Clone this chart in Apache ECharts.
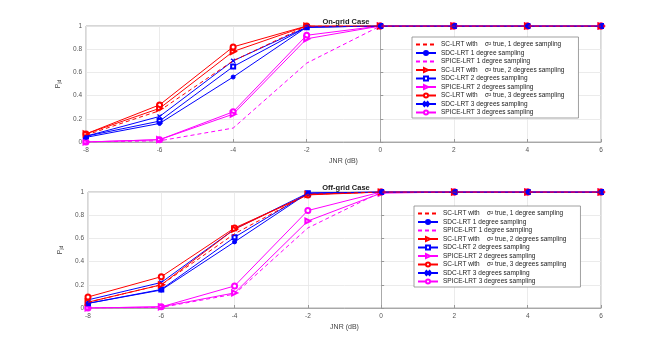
<!DOCTYPE html>
<html>
<head>
<meta charset="utf-8">
<script src="https://cdn.jsdelivr.net/npm/echarts@6/dist/echarts.min.js"></script>
<style>
  html, body { margin: 0; padding: 0; background: #fff; }
  #main { width: 664px; height: 349px; }
</style>
</head>
<body>
<div id="main"></div>
<script>
// x ticks (JNR in dB)
var jnr = [-8, -6, -4, -2, 0, 2, 4, 6];

// On-grid case
var scLrt1On    = [0.06, 0.27, 0.70, 1.00, 1, 1, 1, 1];
var sdcLrt1On   = [0.04, 0.16, 0.56, 0.99, 1, 1, 1, 1];
var spiceLrt1On = [0.00, 0.01, 0.12, 0.68, 1, 1, 1, 1];
var scLrt2On    = [0.07, 0.29, 0.78, 1.00, 1, 1, 1, 1];
var sdcLrt2On   = [0.05, 0.18, 0.65, 0.99, 1, 1, 1, 1];
var spiceLrt2On = [0.00, 0.02, 0.24, 0.89, 1, 1, 1, 1];
var scLrt3On    = [0.07, 0.32, 0.82, 1.00, 1, 1, 1, 1];
var sdcLrt3On   = [0.05, 0.22, 0.70, 0.99, 1, 1, 1, 1];
var spiceLrt3On = [0.00, 0.02, 0.26, 0.92, 1, 1, 1, 1];

// Off-grid case
var scLrt1Off    = [0.05, 0.20, 0.64, 0.98, 1, 1, 1, 1];
var sdcLrt1Off   = [0.04, 0.155, 0.57, 0.99, 1, 1, 1, 1];
var spiceLrt1Off = [0.00, 0.005, 0.12, 0.69, 1, 1, 1, 1];
var scLrt2Off    = [0.05, 0.20, 0.68, 0.98, 1, 1, 1, 1];
var sdcLrt2Off   = [0.04, 0.16, 0.61, 0.99, 1, 1, 1, 1];
var spiceLrt2Off = [0.00, 0.01, 0.13, 0.75, 0.99, 1, 1, 1];
var scLrt3Off    = [0.095, 0.27, 0.69, 0.975, 1, 1, 1, 1];
var sdcLrt3Off   = [0.07, 0.22, 0.68, 0.99, 1, 1, 1, 1];
var spiceLrt3Off = [0.00, 0.01, 0.19, 0.84, 1, 1, 1, 1];

var names = [
  'SC-LRT with    σ² true, 1 degree sampling',
  'SDC-LRT 1 degree sampling',
  'SPICE-LRT 1 degree sampling',
  'SC-LRT with    σ² true, 2 degrees sampling',
  'SDC-LRT 2 degrees sampling',
  'SPICE-LRT 2 degrees sampling',
  'SC-LRT with    σ² true, 3 degrees sampling',
  'SDC-LRT 3 degrees sampling',
  'SPICE-LRT 3 degrees sampling'
];

var RED = '#ff0000', BLUE = '#0000ff', MAG = '#ff00ff';
var crossPath = 'path://M0,1L1,0L5,4L9,0L10,1L6,5L10,9L9,10L5,6L1,10L0,9L4,5Z';

// style of each of the 9 curves: colour, dash, symbol (null = line only)
var styles = [
  { c: RED,  dash: true,  sym: null },
  { c: BLUE, dash: false, sym: 'circle', size: 4 },
  { c: MAG,  dash: true,  sym: null },
  { c: RED,  dash: false, sym: 'emptyTriangle', rot: -90, size: 5 },
  { c: BLUE, dash: false, sym: 'emptyRect', size: 4 },
  { c: MAG,  dash: false, sym: 'emptyTriangle', rot: -90, size: 5 },
  { c: RED,  dash: false, sym: 'emptyCircle', size: 5 },
  { c: BLUE, dash: false, sym: crossPath, size: 4 },
  { c: MAG,  dash: false, sym: 'emptyCircle', size: 5 }
];

var onData  = [scLrt1On, sdcLrt1On, spiceLrt1On, scLrt2On, sdcLrt2On, spiceLrt2On, scLrt3On, sdcLrt3On, spiceLrt3On];
var offData = [scLrt1Off, sdcLrt1Off, spiceLrt1Off, scLrt2Off, sdcLrt2Off, spiceLrt2Off, scLrt3Off, sdcLrt3Off, spiceLrt3Off];

function pairs(ys) {
  var out = [];
  for (var i = 0; i < jnr.length; i++) out.push([jnr[i], ys[i]]);
  return out;
}

function makeSeries(dataList, idx) {
  var list = [];
  for (var i = 0; i < dataList.length; i++) {
    var s = styles[i];
    list.push({
      name: names[i],
      type: 'line',
      xAxisIndex: idx,
      yAxisIndex: idx,
      data: pairs(dataList[i]),
      symbol: s.sym || 'circle',
      symbolSize: s.size || 4,
      symbolRotate: s.rot || 0,
      showSymbol: !!s.sym,
      itemStyle: { color: s.c, borderColor: s.c, borderWidth: 1 },
      lineStyle: { color: s.c, width: 1, type: s.dash ? [4, 3] : 'solid' },
      emphasis: { disabled: true },
      animation: false,
      z: 10 - i
    });
  }
  return list;
}

// legend entries; line-only curves get an invisible marker
function legendData() {
  var out = [];
  for (var i = 0; i < names.length; i++) {
    if (styles[i].sym) out.push({ name: names[i] });
    else out.push({ name: names[i], itemStyle: { opacity: 0 } });
  }
  return out;
}

function xAxisOpt(idx) {
  return {
    type: 'value', gridIndex: idx, min: -8, max: 6, interval: 2,
    name: 'JNR (dB)', nameLocation: 'middle', nameGap: 16,
    nameTextStyle: { fontSize: 7, color: '#444', fontFamily: 'Liberation Sans' },
    axisLine: { show: true, lineStyle: { color: '#999', width: 0.8 } },
    axisTick: { show: true, inside: true, length: 3, lineStyle: { color: '#999' } },
    axisLabel: { fontSize: 6.5, color: '#555', margin: 5, fontFamily: 'Liberation Sans' },
    splitLine: { show: true, lineStyle: { color: '#e6e6e6', width: 0.8 } }
  };
}

function yAxisOpt(idx) {
  return {
    type: 'value', gridIndex: idx, min: 0, max: 1, interval: 0.2,
    name: 'P{sub|jd}', nameLocation: 'middle', nameGap: 21, nameRotate: 90,
    nameTextStyle: {
      fontSize: 7, color: '#444', fontFamily: 'Liberation Sans',
      rich: { sub: { fontSize: 5, color: '#444', verticalAlign: 'bottom', padding: [3, 0, 0, 0] } }
    },
    axisLine: { show: true, lineStyle: { color: '#999', width: 0.8 } },
    axisTick: { show: true, inside: true, length: 3, lineStyle: { color: '#999' } },
    axisLabel: { fontSize: 6.5, color: '#555', margin: 4, fontFamily: 'Liberation Sans' },
    splitLine: { show: true, lineStyle: { color: '#e6e6e6', width: 0.8 } }
  };
}

function legendOpt(left, top) {
  return {
    data: legendData(),
    orient: 'vertical',
    left: left, top: top,
    itemWidth: 20, itemHeight: 5, itemGap: 1.5,
    padding: [4, 14, 2, 3],
    backgroundColor: '#fff',
    borderColor: '#888', borderWidth: 0.8,
    selectedMode: false,
    textStyle: { fontSize: 6.5, color: '#222', fontFamily: 'Liberation Sans', lineHeight: 7 }
  };
}

var chart = echarts.init(document.getElementById('main'), null, { renderer: 'canvas' });
var option = {
  backgroundColor: '#fff',
  animation: false,
  title: [
    { text: 'On-grid Case', left: 341, top: 13, textAlign: 'center',
      textStyle: { fontSize: 7.5, fontWeight: 'bold', color: '#222', fontFamily: 'Liberation Sans' } },
    { text: 'Off-grid Case', left: 341, top: 179, textAlign: 'center',
      textStyle: { fontSize: 7.5, fontWeight: 'bold', color: '#222', fontFamily: 'Liberation Sans' } }
  ],
  grid: [
    { left: 86, right: 63, top: 26, height: 116, show: true, borderColor: '#999', borderWidth: 0.8, backgroundColor: '#fff' },
    { left: 88, right: 63, top: 192, height: 116, show: true, borderColor: '#999', borderWidth: 0.8, backgroundColor: '#fff' }
  ],
  legend: [legendOpt(412, 37), legendOpt(414, 206)],
  xAxis: [xAxisOpt(0), xAxisOpt(1)],
  yAxis: [yAxisOpt(0), yAxisOpt(1)],
  series: makeSeries(onData, 0).concat(makeSeries(offData, 1))
};
chart.setOption(option);
</script>
</body>
</html>
